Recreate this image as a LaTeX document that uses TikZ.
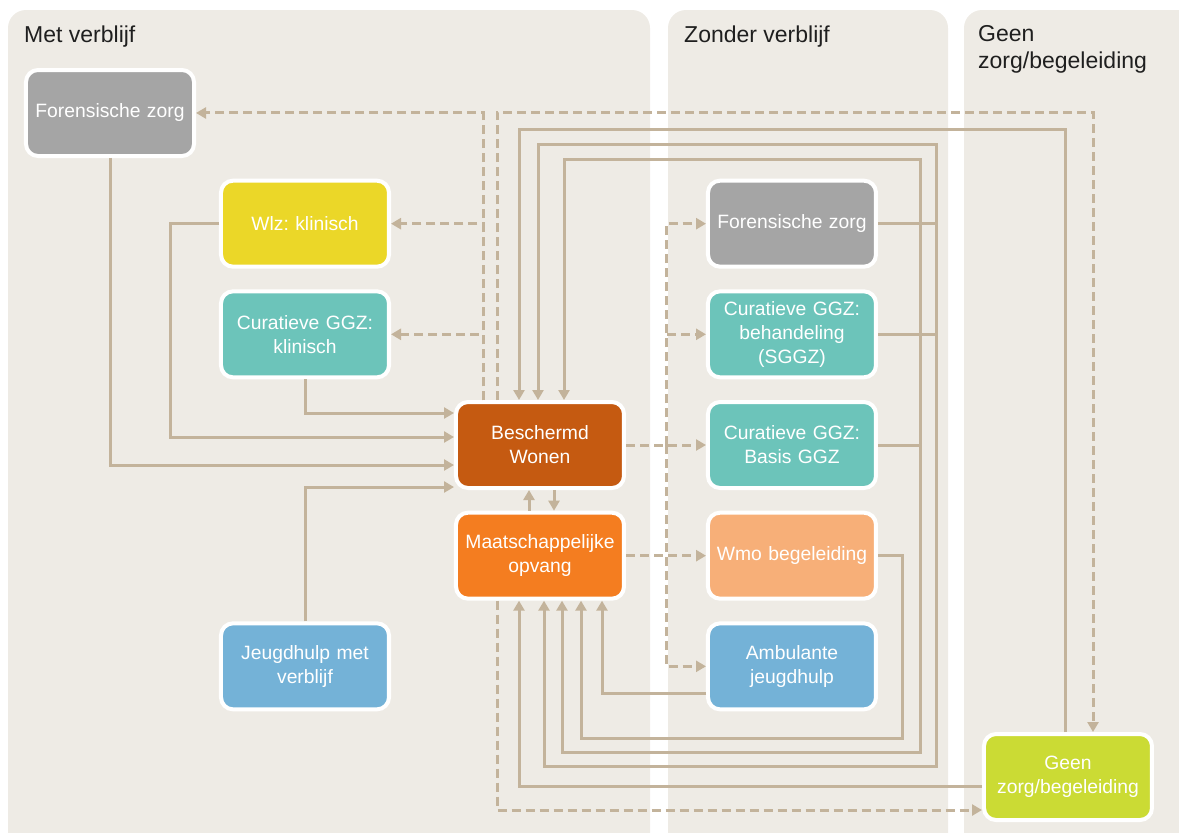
\documentclass[tikz,border=0pt]{standalone}
\usepackage{fontspec}
\setmainfont{Liberation Sans}
\usetikzlibrary{matrix,arrows.meta}

\definecolor{panelbg}{RGB}{238,235,229}
\definecolor{flowc}{RGB}{195,179,155}
\definecolor{cgrey}{RGB}{165,165,165}
\definecolor{cwlz}{RGB}{235,215,40}
\definecolor{cteal}{RGB}{108,196,186}
\definecolor{cbw}{RGB}{197,90,17}
\definecolor{cmo}{RGB}{244,125,32}
\definecolor{cwmo}{RGB}{247,175,120}
\definecolor{cblue}{RGB}{116,178,215}
\definecolor{cgeen}{RGB}{203,219,52}

\tikzset{
  box/.style={draw=white, line width=4pt, rounded corners=12pt, text width=164pt,
    minimum height=86pt, inner sep=2pt, align=center, text=white, anchor=center,
    font=\fontsize{19.3}{24}\selectfont\frenchspacing},
  forens/.style={box, fill=cgrey},
  wlz/.style={box, fill=cwlz},
  ggz/.style={box, fill=cteal},
  bw/.style={box, fill=cbw},
  mo/.style={box, fill=cmo},
  wmo/.style={box, fill=cwmo},
  jeugd/.style={box, fill=cblue},
  geen/.style={box, fill=cgeen},
  flow/.style={draw=flowc, line width=3pt, -{Triangle[length=10pt,width=11pt]}},
  dflow/.style={flow, dash pattern=on 9pt off 5pt},
  panel/.style={fill=panelbg, rounded corners=18pt},
  ptitle/.style={anchor=base west, inner sep=0pt, text=black!88, align=left,
    font=\fontsize{23}{27}\selectfont}
}

\begin{document}
\begin{tikzpicture}[x=1pt, y=-1pt]
  \useasboundingbox (0,0) rectangle (1179,833);
  \fill[panel] (8,10) rectangle (650,880);
  \fill[panel] (668,10) rectangle (948,880);
  \fill[panel] (964,10) rectangle (1220,880);
  \node[ptitle] (t1) at (24,42) {Met verblijf};
  \node[ptitle] (t2) at (684,42) {Zonder verblijf};
  \node[ptitle] (t3) at (978,68) {Geen\\zorg/begeleiding};

  \matrix (m) [matrix of nodes, row sep=20.67pt, column sep=23pt] at (589,445)
  {
    |[forens]| Forensische zorg & &[40pt] &[57pt] &[81pt] \\
    & |[wlz]| Wlz: klinisch & & |[forens]| Forensische zorg & \\
    & |[ggz]| Curatieve GGZ:\par klinisch & & |[ggz]| Curatieve GGZ:\par behandeling\par (SGGZ) & \\
    & & |[bw]| Beschermd\par Wonen & |[ggz]| Curatieve GGZ:\par Basis GGZ & \\
    & & |[mo]| Maatschappelijke\par opvang & |[wmo]| Wmo begeleiding & \\
    & |[jeugd]| Jeugdhulp met\par verblijf & & |[jeugd]| Ambulante\par jeugdhulp & \\
    & & & & |[geen]| Geen\par zorg/begeleiding \\
  };

  % solid flows
  \draw[flow] (m-1-1.south) |- ([yshift=-20pt]m-4-3.west);
  \draw[flow] (m-2-2.west) -- ++(-49,0) |- ([yshift=8pt]m-4-3.west);
  \draw[flow] (m-3-2.south) |- ([yshift=32pt]m-4-3.west);
  \draw[flow] (m-6-2.north) |- ([yshift=-42pt]m-4-3.west);
  \draw[flow] ([xshift=-11pt]m-5-3.north) -- ([xshift=-11pt]m-4-3.south);
  \draw[flow] ([xshift=14pt]m-4-3.south) -- ([xshift=14pt]m-5-3.north);
  \draw[flow] ([xshift=-3pt]m-7-5.north) -- ++(0,-603) -| ([xshift=-21pt]m-4-3.north);
  \draw[flow] (m-2-4.east) -| ++(58,-79) -| ([xshift=-2pt]m-4-3.north);
  \draw[flow] (m-2-4.east) -| ++(58,543) -| ([xshift=4pt]m-5-3.south);
  \draw[flow,-] (m-3-4.east) -- ++(58,0);
  \draw[flow] (m-4-4.east) -| ++(42,-286) -| ([xshift=24pt]m-4-3.north);
  \draw[flow] (m-4-4.east) -| ++(42,307) -| ([xshift=22pt]m-5-3.south);
  \draw[flow] (m-5-4.east) -| ++(24,183) -| ([xshift=41pt]m-5-3.south);
  \draw[flow] ([yshift=-27pt]m-6-4.west) -| ([xshift=62pt]m-5-3.south);
  \draw[flow] ([yshift=-9pt]m-7-5.west) -| ([xshift=-21pt]m-5-3.south);

  % dashed flows
  \draw[dflow] ([xshift=-57pt]m-4-3.north) |- (m-1-1.east);
  \draw[dflow] ([xshift=-57pt]m-4-3.north) |- (m-2-2.east);
  \draw[dflow] ([xshift=-57pt]m-4-3.north) |- (m-3-2.east);
  \draw[dflow] ([xshift=-43pt]m-4-3.north) -- ++(0,-288) -| ([xshift=25pt]m-7-5.north);
  \draw[dflow] (m-4-3.east) -- (m-4-4.west);
  \coordinate (split) at ([xshift=40pt]m-4-3.east);
  \draw[dflow] (split) |- (m-2-4.west);
  \draw[dflow] (split) |- (m-3-4.west);
  \draw[dflow] (split) |- (m-6-4.west);
  \draw[dflow] (m-5-3.east) -- (m-5-4.west);
  \draw[dflow] ([xshift=-43pt]m-5-3.south) |- ([yshift=-33pt]m-7-5.west);
\end{tikzpicture}
\end{document}
